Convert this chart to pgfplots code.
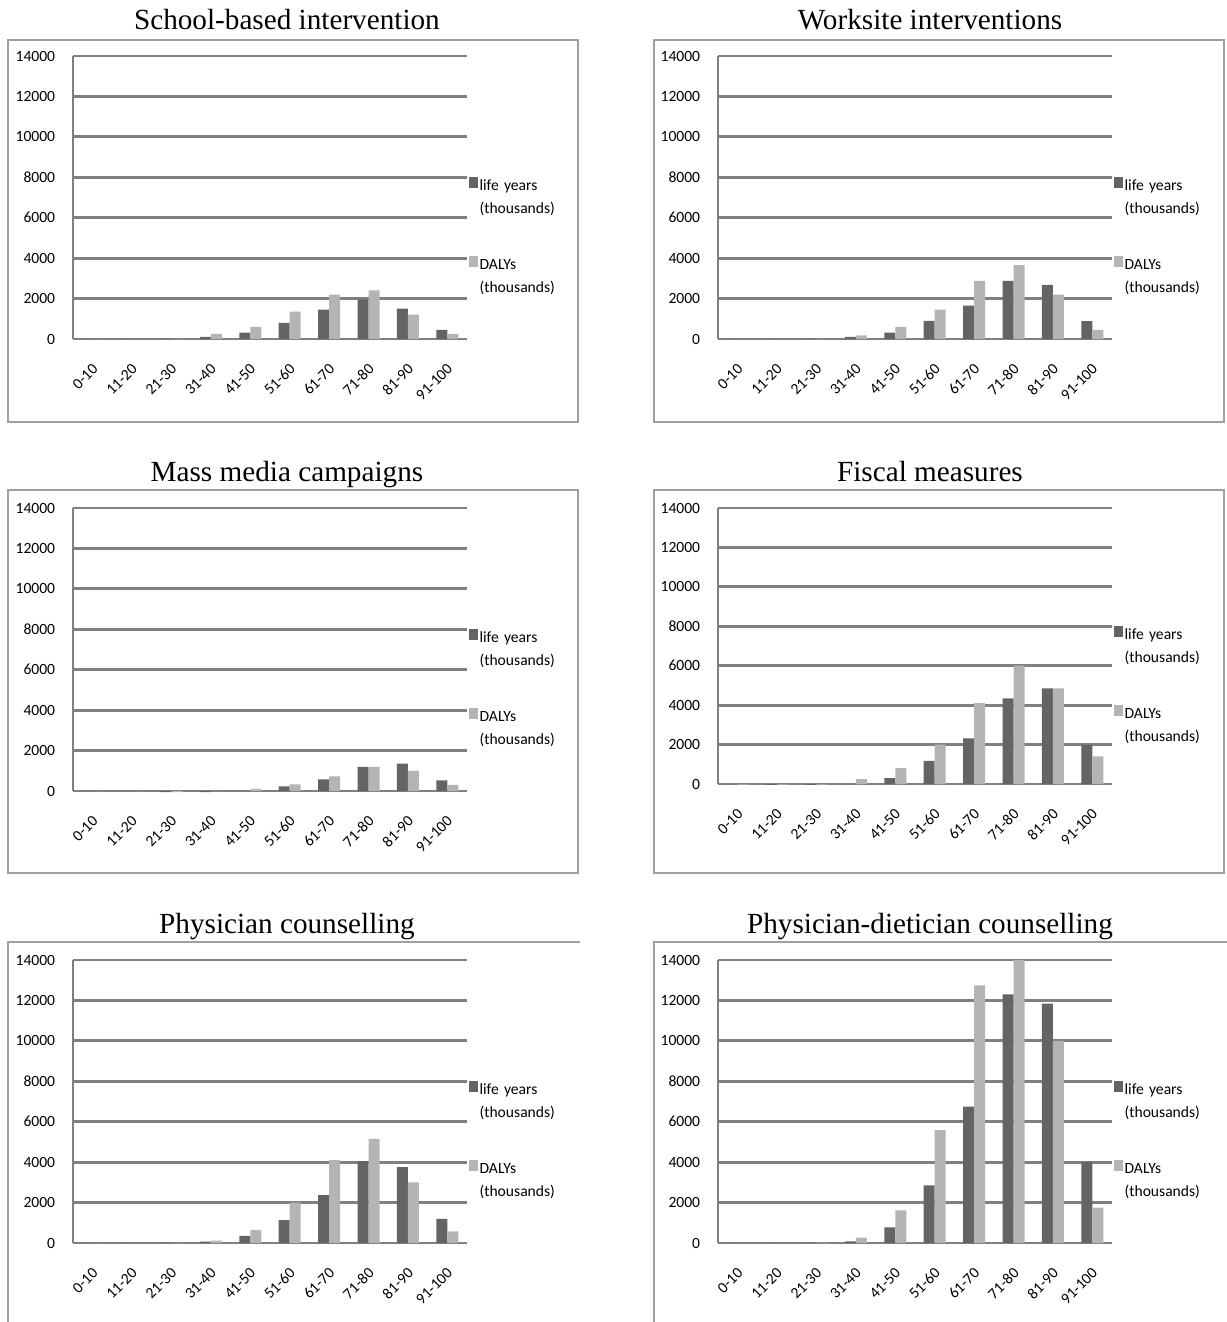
\documentclass[border=0pt]{standalone}
\usepackage{fontspec}
\setmainfont{Liberation Serif}
\newfontfamily\carlito{Carlito}
\usepackage{pgfplots}
\usepackage{pgfplotstable}
\pgfplotsset{compat=1.18}
\definecolor{darkbar}{RGB}{100,100,100}
\definecolor{lightbar}{RGB}{180,180,180}
\definecolor{gridc}{RGB}{128,128,128}
\definecolor{boxc}{RGB}{160,160,160}

\pgfplotstableread{
c ly da
0 0 0
1 0 0
2 10 10
3 100 250
4 320 600
5 800 1350
6 1450 2200
7 1950 2400
8 1500 1200
9 450 250
}\tabA
\pgfplotstableread{
c ly da
0 0 0
1 0 0
2 10 10
3 100 180
4 320 600
5 900 1450
6 1650 2880
7 2870 3650
8 2680 2200
9 880 450
}\tabB
\pgfplotstableread{
c ly da
0 0 0
1 0 0
2 -60 -50
3 -50 0
4 0 100
5 230 330
6 580 730
7 1200 1200
8 1350 1000
9 520 300
}\tabC
\pgfplotstableread{
c ly da
0 0 -30
1 -50 -30
2 -40 -30
3 0 250
4 300 810
5 1170 2000
6 2320 4100
7 4350 6000
8 4850 4850
9 1980 1400
}\tabD
\pgfplotstableread{
c ly da
0 0 0
1 0 0
2 10 10
3 70 120
4 350 650
5 1130 2000
6 2370 4100
7 4050 5150
8 3750 3000
9 1200 580
}\tabE
\pgfplotstableread{
c ly da
0 0 0
1 0 0
2 10 20
3 80 270
4 770 1620
5 2850 5580
6 6750 12740
7 12300 14000
8 11840 10000
9 4010 1750
}\tabF

\pgfplotsset{
  sqlegend/.style={legend image code/.code={\draw[##1,draw=none] (0pt,-0.5pt) rectangle (4.5pt,5pt);}},
  panel/.style={
    anchor=south west, scale only axis, width=197pt, height=141.5pt,
    ymin=0, ymax=14000, ytick={0,2000,...,14000}, scaled y ticks=false,
    xmin=-0.5, xmax=9.5, xtick={0,...,9},
    xticklabels={0-10,11-20,21-30,31-40,41-50,51-60,61-70,71-80,81-90,91-100},
    ybar=0pt, bar width=5.5pt, clip=false,
    axis x line*=bottom, axis y line*=left,
    axis line style={-, draw=gridc},
    x axis line style={line width=1.4pt},
    y axis line style={line width=1pt},
    ymajorgrids, major grid style={line width=1.4pt, draw=gridc},
    major tick length=0pt,
    tick label style={font=\carlito\fontsize{7.8}{9}\selectfont},
    /pgf/number format/assume math mode=true,
    /pgf/number format/1000 sep={},
    yticklabel style={xshift=-5.4pt},
    xticklabel style={xshift=-0.6pt, yshift=-6.9pt, rotate=45, anchor=north east},
    title style={anchor=base, yshift=7.5pt, font=\fontsize{14.6}{17}\selectfont},
    legend style={draw=none, fill=none, at={(1.003,0.575)}, anchor=north west,
      font=\carlito\fontsize{7.8}{11.5}\selectfont, inner sep=0pt, row sep=30pt,
      nodes={inner sep=1pt, text width=48pt, align=left},
      /tikz/every even column/.append style={column sep=2.5pt}},
    legend cell align=left,
  }
}

\newcommand{\panel}[6]{%
\begin{axis}[panel, at={(#1,#2)}, height=#3, title={#4}, title style={at={(#5,1)}}]
\addplot[fill=darkbar, draw=none, sqlegend] table[x index=0, y index=1] {#6};
\addplot[fill=lightbar, draw=none, sqlegend] table[x index=0, y index=2] {#6};
\legend{life years\\(thousands), DALYs\\(thousands)}
\end{axis}}

\begin{document}
\begin{tikzpicture}
\path[use as bounding box] (0,0) rectangle (613pt,-661pt);
\begin{scope}[x=0.5pt, y=-0.5pt, draw=boxc, line width=1pt]
\draw (8,40) rectangle (578,422);
\draw (654,40) rectangle (1224,422);
\draw (8,490) rectangle (578,873);
\draw (654,490) rectangle (1224,873);
\draw (8,1330) -- (8,942) -- (580,942);
\draw (654,1330) -- (654,942) -- (1230,942);
\end{scope}
\panel{36.5pt}{-169.5pt}{141.5pt}{School-based intervention}{0.543}{\tabA}
\panel{359pt}{-169.5pt}{141.5pt}{Worksite interventions}{0.538}{\tabB}
\panel{36.5pt}{-395.5pt}{141.5pt}{Mass media campaigns}{0.543}{\tabC}
\panel{359pt}{-392pt}{138pt}{Fiscal measures}{0.538}{\tabD}
\panel{36.5pt}{-621.5pt}{141.5pt}{Physician counselling}{0.543}{\tabE}
\panel{359pt}{-621.5pt}{141.5pt}{Physician-dietician counselling}{0.538}{\tabF}
\end{tikzpicture}
\end{document}
